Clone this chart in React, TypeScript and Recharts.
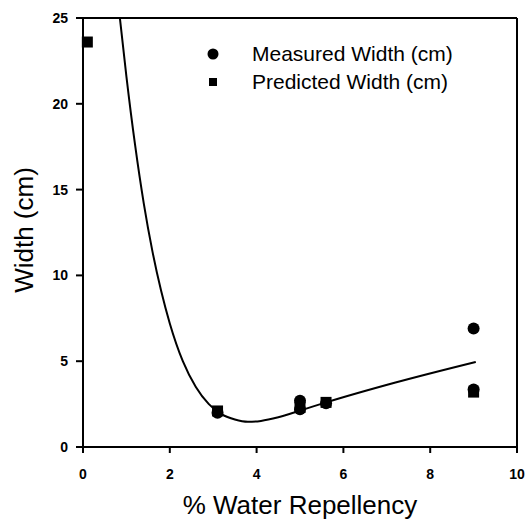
import React from "react";
import {
  ComposedChart,
  Line,
  Scatter,
  XAxis,
  YAxis,
  ReferenceLine,
} from "recharts";

type Pt = { x: number; y: number };

// fitted curve
const curveX = [0.85, 1.0, 1.2, 1.4, 1.6, 1.8, 2.0, 2.3, 2.6, 2.9, 3.2, 3.5, 3.8, 4.1, 4.5, 5.0, 5.6, 7.2, 9.05];
const curveY = [25, 21.6, 17.6, 14.2, 11.4, 9.1, 7.2, 5.0, 3.5, 2.5, 1.9, 1.6, 1.47, 1.52, 1.73, 2.12, 2.6, 3.76, 4.96];

const measuredX = [3.1, 5.0, 5.0, 5.6, 9.0, 9.0];
const measuredY = [2.0, 2.7, 2.2, 2.55, 6.9, 3.35];

const predictedX = [0.1, 3.1, 5.0, 5.6, 9.0];
const predictedY = [23.6, 2.1, 2.3, 2.6, 3.2];

const xTicks = [0, 2, 4, 6, 8, 10];
const yTicks = [0, 5, 10, 15, 20, 25];

const zip = (xs: number[], ys: number[]): Pt[] => xs.map((x, i) => ({ x, y: ys[i] }));

const curve = zip(curveX, curveY);
const measured = zip(measuredX, measuredY);
const predicted = zip(predictedX, predictedY);

const FONT = "'Liberation Sans', Arial, sans-serif";

const tickStyle = { fill: "#000", fontSize: 14, fontWeight: 700, fontFamily: FONT };

const Dot = (p: { cx?: number; cy?: number }) => <circle cx={p.cx} cy={p.cy} r={6} fill="#000" />;

const Square = (p: { cx?: number; cy?: number }) => (
  <rect x={(p.cx ?? 0) - 5.5} y={(p.cy ?? 0) - 5.5} width={11} height={11} fill="#000" />
);

export default function App() {
  return (
    <div style={{ position: "absolute", left: 0, top: 0, width: 529, height: 523, background: "#fff" }}>
      <ComposedChart width={529} height={523} margin={{ top: 18, right: 12, bottom: 16, left: 0 }}>
        <XAxis
          type="number"
          dataKey="x"
          domain={[0, 10]}
          ticks={xTicks}
          interval={0}
          axisLine={{ stroke: "#000", strokeWidth: 2 }}
          tickLine={{ stroke: "#000", strokeWidth: 2 }}
          tickSize={6}
          tickMargin={16}
          height={60}
          tick={tickStyle}
          label={{
            content: () => (
              <text x={300} y={514} textAnchor="middle" fontSize={26} fontFamily={FONT} fill="#000">
                % Water Repellency
              </text>
            ),
          }}
        />
        <YAxis
          type="number"
          dataKey="y"
          domain={[0, 25]}
          ticks={yTicks}
          interval={0}
          width={83}
          axisLine={{ stroke: "#000", strokeWidth: 2 }}
          tickLine={{ stroke: "#000", strokeWidth: 2 }}
          tickSize={7}
          tickMargin={8}
          tick={tickStyle}
          label={{
            content: () => (
              <text
                x={33}
                y={230}
                transform="rotate(-90 33 230)"
                textAnchor="middle"
                fontSize={26}
                fontFamily={FONT}
                fill="#000"
              >
                Width (cm)
              </text>
            ),
          }}
        />
        <ReferenceLine y={25} stroke="#000" strokeWidth={2} />
        <ReferenceLine x={10} stroke="#000" strokeWidth={2} />
        <Line
          data={curve}
          dataKey="y"
          type="monotone"
          stroke="#000"
          strokeWidth={2}
          dot={false}
          isAnimationActive={false}
        />
        <Scatter data={measured} shape={Dot} isAnimationActive={false} />
        <Scatter data={predicted} shape={Square} isAnimationActive={false} />
      </ComposedChart>

      {/* legend box in the upper right of the plot */}
      <div style={{ position: "absolute", left: 200, top: 40, fontFamily: FONT, fontSize: 21, color: "#000", lineHeight: "28px" }}>
        <div style={{ display: "flex", alignItems: "center" }}>
          <svg width={52} height={28}>
            <circle cx={13} cy={14} r={5.5} fill="#000" />
          </svg>
          <span>Measured Width (cm)</span>
        </div>
        <div style={{ display: "flex", alignItems: "center" }}>
          <svg width={52} height={28}>
            <rect x={9} y={10} width={8} height={8} fill="#000" />
          </svg>
          <span>Predicted Width (cm)</span>
        </div>
      </div>
    </div>
  );
}
